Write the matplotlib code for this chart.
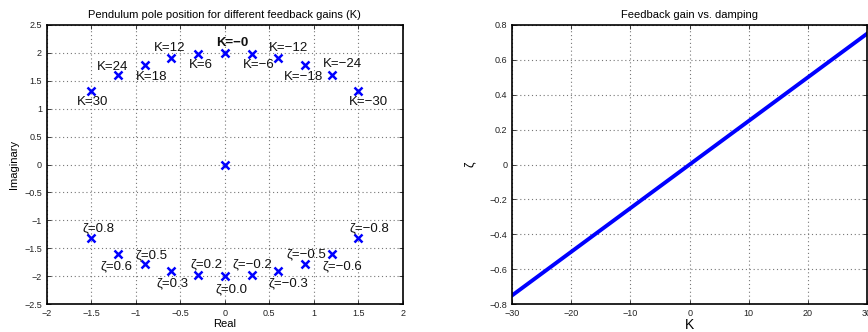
import numpy as np
import matplotlib
matplotlib.use("Agg")
import matplotlib.pyplot as plt

plt.rcParams["font.family"] = ["Liberation Sans", "DejaVu Sans"]

# pole positions (upper branch labelled by gain, lower branch by damping)
pole_re = [-1.5, -1.2, -0.9, -0.6, -0.3, 0.0, 0.3, 0.6, 0.9, 1.2, 1.5]
pole_im_up = [1.323, 1.6, 1.786, 1.908, 1.977, 2.0, 1.977, 1.908, 1.786, 1.6, 1.323]
pole_im_lo = [-1.323, -1.6, -1.786, -1.908, -1.977, -2.0, -1.977, -1.908, -1.786, -1.6, -1.323]
origin = (0.0, 0.0)

k_labels = ["K=30", "K=24", "K=18", "K=12", "K=6", "K=\u22120",
            "K=\u22126", "K=\u221212", "K=\u221218", "K=\u221224", "K=\u221230"]
k_label_pos = [(-1.66, 1.12), (-1.44, 1.75), (-1.0, 1.57), (-0.80, 2.09), (-0.40, 1.78),
               (-0.10, 2.18), (0.20, 1.78), (0.49, 2.09), (0.66, 1.57), (1.10, 1.80), (1.40, 1.12)]
z_labels = ["\u03b6=0.8", "\u03b6=0.6", "\u03b6=0.5", "\u03b6=0.3", "\u03b6=0.2", "\u03b6=0.0",
            "\u03b6=\u22120.2", "\u03b6=\u22120.3", "\u03b6=\u22120.5", "\u03b6=\u22120.6", "\u03b6=\u22120.8"]
z_label_pos = [(-1.60, -1.14), (-1.40, -1.82), (-1.0, -1.62), (-0.77, -2.12), (-0.39, -1.78),
               (-0.10, -2.23), (0.09, -1.78), (0.49, -2.12), (0.69, -1.60), (1.10, -1.82), (1.40, -1.14)]

# gain vs damping
gain_k = [-30, 30]
damping = [-0.75, 0.75]

fig = plt.figure(figsize=(8.68, 3.32), dpi=100)
ax1 = fig.add_axes([0.054, 0.084, 0.410, 0.841])
ax2 = fig.add_axes([0.590, 0.084, 0.409, 0.841])


def matlab_style(ax):
    ax.grid(True, linestyle=(0, (1, 2.5)), color="#777777", linewidth=0.8)
    ax.tick_params(direction="in", labelsize=6.5, top=True, right=True,
                   length=3, width=0.6, colors="#222222")
    for s in ax.spines.values():
        s.set_linewidth(1.2)


blue = "#0000ff"
ax1.plot(pole_re, pole_im_up, "x", color=blue, ms=6, mew=1.8)
ax1.plot(pole_re, pole_im_lo, "x", color=blue, ms=6, mew=1.8)
ax1.plot(*origin, "x", color=blue, ms=6, mew=1.8)
for t, (x, y) in zip(k_labels, k_label_pos):
    ax1.text(x, y, t, fontsize=9.5, va="center", ha="left", color="#111111",
             fontweight="bold" if t.endswith("\u22120") else "normal")
for t, (x, y) in zip(z_labels, z_label_pos):
    ax1.text(x, y, t, fontsize=9.5, va="center", ha="left", color="#111111")
ax1.set_xlim(-2, 2)
ax1.set_ylim(-2.5, 2.5)
ax1.set_xticks(np.arange(-2, 2.01, 0.5))
ax1.set_yticks(np.arange(-2.5, 2.51, 0.5))
ax1.set_xticklabels(["\u22122", "\u22121.5", "\u22121", "\u22120.5", "0", "0.5", "1", "1.5", "2"])
ax1.set_yticklabels(["\u22122.5", "\u22122", "\u22121.5", "\u22121", "\u22120.5", "0", "0.5", "1", "1.5", "2", "2.5"])
ax1.set_xlabel("Real", fontsize=8, labelpad=1)
ax1.set_ylabel("Imaginary", fontsize=8, labelpad=4)
ax1.set_title("Pendulum pole position for different feedback gains (K)", fontsize=8, pad=5)
matlab_style(ax1)

ax2.plot(gain_k, damping, color=blue, linewidth=2.8)
ax2.set_xlim(-30, 30)
ax2.set_ylim(-0.8, 0.8)
ax2.set_xticks(np.arange(-30, 31, 10))
ax2.set_yticks(np.arange(-0.8, 0.81, 0.2))
ax2.set_xticklabels(["\u221230", "\u221220", "\u221210", "0", "10", "20", "30"])
ax2.set_yticklabels(["\u22120.8", "\u22120.6", "\u22120.4", "\u22120.2", "0", "0.2", "0.4", "0.6", "0.8"])
ax2.set_xlabel("K", fontsize=10, labelpad=0)
ax2.set_ylabel("\u03b6", fontsize=9, labelpad=10)
ax2.set_title("Feedback gain vs. damping", fontsize=8, pad=5)
matlab_style(ax2)

fig.savefig("out.png", dpi=100)
